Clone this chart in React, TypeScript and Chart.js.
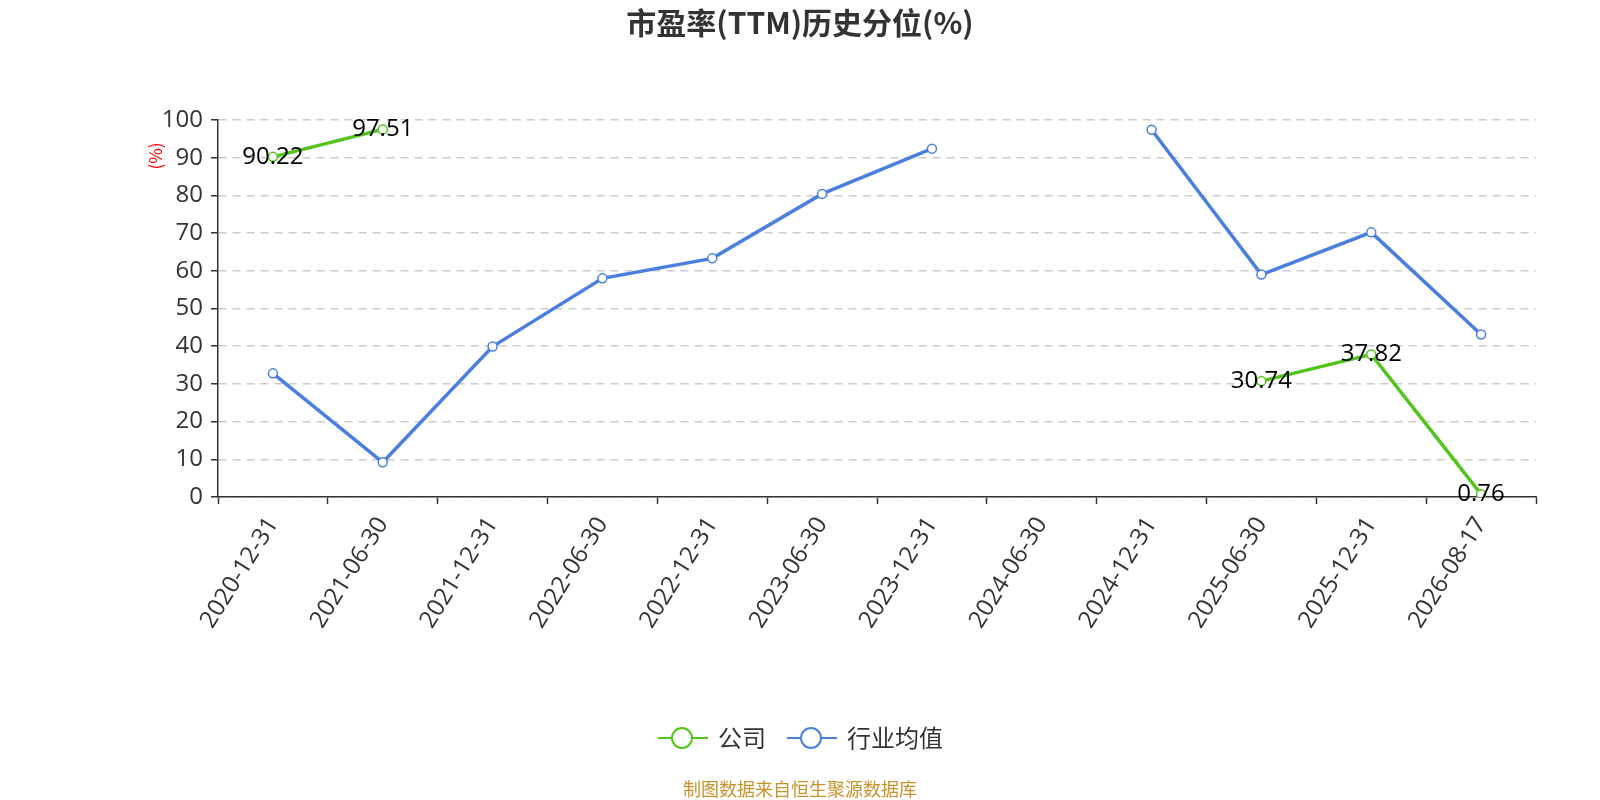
import React, { useEffect, useRef } from "react";
import { Chart, registerables } from "chart.js";

Chart.register(...registerables);

const categories = [
  "2020-12-31", "2021-06-30", "2021-12-31", "2022-06-30", "2022-12-31", "2023-06-30",
  "2023-12-31", "2024-06-30", "2024-12-31", "2025-06-30", "2025-12-31", "2026-08-17",
];
const companyValues: (number | null)[] = [90.22, 97.51, null, null, null, null, null, null, null, 30.74, 37.82, 0.76];
const industryValues: (number | null)[] = [32.8, 9.2, 39.9, 58.0, 63.3, 80.4, 92.4, null, 97.4, 59.0, 70.2, 43.1];
const yTicks = [0, 10, 20, 30, 40, 50, 60, 70, 80, 90, 100];

const TITLE = "市盈率(TTM)历史分位(%)";
const SOURCE = "制图数据来自恒生聚源数据库";
const GREEN = "#52c41a";
const BLUE = "#4a7fe0";
const FONT = "'Open Sans', 'Noto Sans CJK SC', sans-serif";
const CJK = "'Noto Sans CJK SC', sans-serif";

const decorPlugin = {
  id: "decor",
  afterDatasetsDraw(chart: any) {
    const ctx = chart.ctx;
    const meta = chart.getDatasetMeta(0);
    ctx.save();
    ctx.fillStyle = "#000";
    ctx.font = `24px ${FONT}`;
    ctx.textAlign = "center";
    ctx.textBaseline = "middle";
    meta.data.forEach((pt: any, i: number) => {
      const v = companyValues[i];
      if (v === null || v === undefined) return;
      ctx.fillText(v.toFixed(2), pt.x, pt.y);
    });
    ctx.restore();
  },
  afterDraw(chart: any) {
    const ctx = chart.ctx;
    ctx.save();
    ctx.fillStyle = "#333";
    ctx.font = `bold 30px ${CJK}`;
    ctx.textAlign = "center";
    ctx.textBaseline = "middle";
    ctx.fillText(TITLE, 800, 23);
    ctx.save();
    ctx.translate(156, 156);
    ctx.rotate(-Math.PI / 2);
    ctx.fillStyle = "#ff0000";
    ctx.font = `17px ${CJK}`;
    ctx.fillText("(%)", 0, 0);
    ctx.restore();
    const items = [
      { label: "公司", color: GREEN, x: 658 },
      { label: "行业均值", color: BLUE, x: 787 },
    ];
    const ly = 738;
    items.forEach((it) => {
      ctx.strokeStyle = it.color;
      ctx.lineWidth = 2;
      ctx.beginPath();
      ctx.moveTo(it.x, ly);
      ctx.lineTo(it.x + 50, ly);
      ctx.stroke();
      ctx.beginPath();
      ctx.arc(it.x + 24, ly, 10, 0, Math.PI * 2);
      ctx.fillStyle = "#fff";
      ctx.fill();
      ctx.stroke();
      ctx.fillStyle = "#333";
      ctx.font = `24px ${CJK}`;
      ctx.textAlign = "left";
      ctx.textBaseline = "middle";
      ctx.fillText(it.label, it.x + 60, ly);
    });
    ctx.fillStyle = "#c8922a";
    ctx.font = `18px ${CJK}`;
    ctx.textAlign = "center";
    ctx.textBaseline = "middle";
    ctx.fillText(SOURCE, 800, 789);
    ctx.restore();
  },
};

export default function App() {
  const ref = useRef<HTMLCanvasElement | null>(null);
  useEffect(() => {
    document.documentElement.style.overflow = "hidden";
    document.body.style.margin = "0";
    document.body.style.overflow = "hidden";
    if (!ref.current) return;
    const chart = new Chart(ref.current, {
      type: "line",
      data: {
        labels: categories,
        datasets: [
          {
            label: "公司",
            data: companyValues,
            borderColor: GREEN,
            backgroundColor: "#fff",
            borderWidth: 3.5,
            pointRadius: 4.5,
            pointBorderWidth: 1.5,
            pointBackgroundColor: "#fff",
            pointBorderColor: GREEN,
            spanGaps: false,
            tension: 0,
          },
          {
            label: "行业均值",
            data: industryValues,
            borderColor: BLUE,
            backgroundColor: "#fff",
            borderWidth: 3.5,
            pointRadius: 4.5,
            pointBorderWidth: 1.5,
            pointBackgroundColor: "#fff",
            pointBorderColor: BLUE,
            spanGaps: false,
            tension: 0,
          },
        ],
      },
      options: {
        animation: false,
        responsive: false,
        maintainAspectRatio: false,
        layout: { padding: { left: 138, right: 64, top: 120, bottom: 163 } },
        plugins: {
          legend: { display: false },
          title: { display: false },
          tooltip: { enabled: false },
        },
        scales: {
          x: {
            type: "category",
            offset: true,
            grid: {
              offset: true,
              drawOnChartArea: false,
              drawTicks: true,
              tickLength: 7,
              tickColor: "#333",
              tickWidth: 1.5,
            },
            border: { display: true, color: "#333", width: 1.5 },
            ticks: {
              color: "#333",
              font: { size: 24, family: FONT },
              minRotation: 58,
              maxRotation: 58,
              autoSkip: false,
              padding: 8,
            },
            afterFit: (scale: any) => {
              scale.height = 140;
            },
          },
          y: {
            min: 0,
            max: 100,
            afterBuildTicks: (scale: any) => {
              scale.ticks = yTicks.map((v) => ({ value: v }));
            },
            grid: {
              color: "#cccccc",
              lineWidth: 1.5,
              drawTicks: true,
              tickLength: 7,
              tickColor: "#333",
              tickWidth: 1.5,
              tickBorderDash: [],
            } as any,
            border: { display: true, color: "#333", width: 1.5, dash: [8, 6] },
            ticks: {
              color: "#333",
              font: { size: 24, family: FONT },
              padding: 8,
            },
            afterFit: (scale: any) => {
              scale.width = 80;
            },
          },
        },
      } as any,
      plugins: [decorPlugin],
    });
    return () => chart.destroy();
  }, []);
  return (
    <div style={{ position: "absolute", left: 0, top: 0, width: 1600, height: 800, background: "#fff", overflow: "hidden" }}>
      <canvas ref={ref} width={1600} height={800} style={{ display: "block", width: 1600, height: 800 }} />
    </div>
  );
}
